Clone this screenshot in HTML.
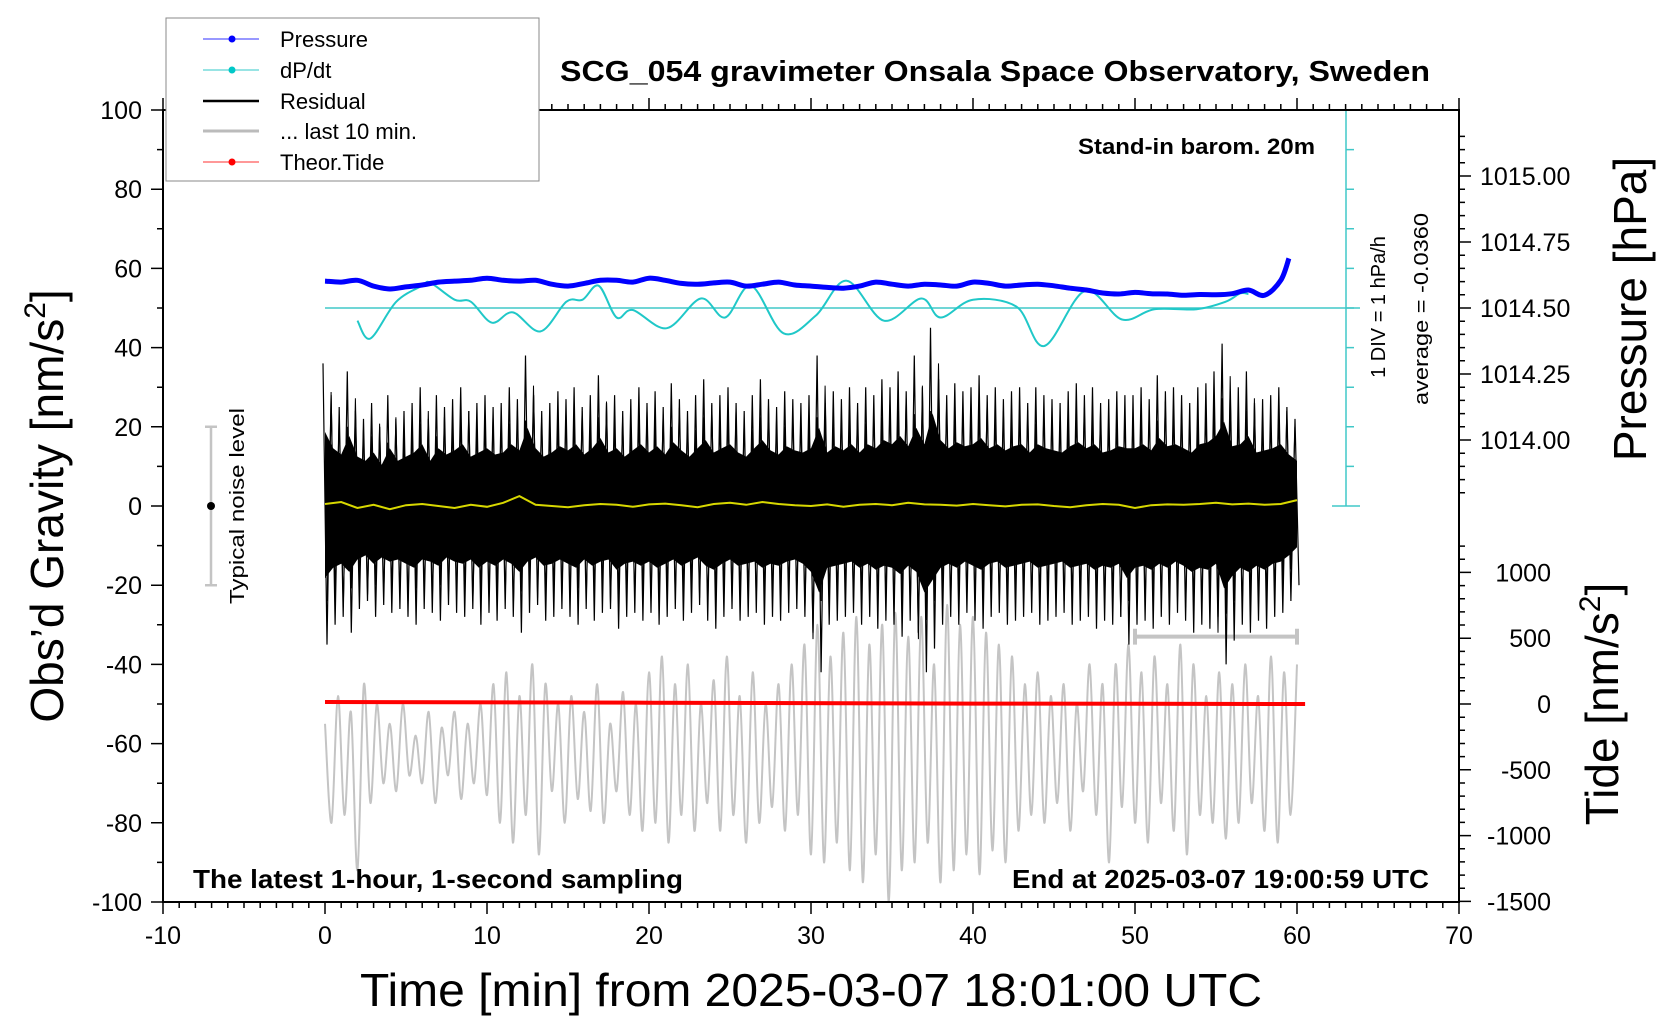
<!DOCTYPE html>
<html><head><meta charset="utf-8"><style>
html,body{margin:0;padding:0;background:#fff;}
svg{display:block;font-family:"Liberation Sans",sans-serif;}
</style></head><body>
<svg id="chart" width="1660" height="1020" viewBox="0 0 1660 1020" xmlns="http://www.w3.org/2000/svg">
<rect x="0" y="0" width="1660" height="1020" fill="#fff"/>
<g id="marks"></g>
<g id="axes"></g>
<rect x="163" y="110" width="1296" height="792" fill="none" stroke="#000" stroke-width="2"/>
<text x="995" y="81" font-size="29" font-weight="bold" text-anchor="middle" textLength="870" lengthAdjust="spacingAndGlyphs">SCG_054 gravimeter Onsala Space Observatory, Sweden</text>
<text transform="translate(63,506) rotate(-90)" font-size="46" text-anchor="middle">Obs’d Gravity [nm/s<tspan font-size="30" dy="-18">2</tspan><tspan dy="18">]</tspan></text>
<text x="811" y="1006" font-size="46" text-anchor="middle" textLength="902" lengthAdjust="spacingAndGlyphs">Time [min] from 2025-03-07 18:01:00 UTC</text>
<text transform="translate(1646,309) rotate(-90)" font-size="46" text-anchor="middle">Pressure [hPa]</text>
<text transform="translate(1618,704) rotate(-90)" font-size="46" text-anchor="middle">Tide [nm/s<tspan font-size="30" dy="-18">2</tspan><tspan dy="18">]</tspan></text>
<text x="1315" y="154" font-size="22" font-weight="bold" text-anchor="end" textLength="237" lengthAdjust="spacingAndGlyphs">Stand-in barom. 20m</text>
<text x="193" y="888" font-size="26" font-weight="bold" textLength="490" lengthAdjust="spacingAndGlyphs">The latest 1-hour, 1-second sampling</text>
<text x="1429" y="888" font-size="26" font-weight="bold" text-anchor="end" textLength="417" lengthAdjust="spacingAndGlyphs">End at 2025-03-07 19:00:59 UTC</text>
<text transform="translate(1385,307) rotate(-90)" font-size="20" text-anchor="middle">1 DIV = 1 hPa/h</text>
<text transform="translate(1428,309) rotate(-90)" font-size="20" text-anchor="middle" textLength="192" lengthAdjust="spacingAndGlyphs">average = -0.0360</text>
<text transform="translate(244,506) rotate(-90)" font-size="20" text-anchor="middle" textLength="196" lengthAdjust="spacingAndGlyphs">Typical noise level</text>
<g>
<rect x="166" y="18" width="373" height="163" fill="#fff" stroke="#888" stroke-width="1"/>
<g><line x1="203" y1="39" x2="259" y2="39" stroke="#3030ff" stroke-width="1"/><circle cx="232" cy="39" r="3.5" fill="#0000ff"/><text x="280" y="47" font-size="22">Pressure</text></g>
<g><line x1="203" y1="70" x2="259" y2="70" stroke="#30c8c8" stroke-width="1"/><circle cx="232" cy="70" r="3.5" fill="#00c8c8"/><text x="280" y="78" font-size="22">dP/dt</text></g>
<g><line x1="203" y1="101" x2="259" y2="101" stroke="#000" stroke-width="2.5"/><text x="280" y="109" font-size="22">Residual</text></g>
<g><line x1="203" y1="131" x2="259" y2="131" stroke="#bbb" stroke-width="3"/><text x="280" y="139" font-size="22">... last 10 min.</text></g>
<g><line x1="203" y1="162" x2="259" y2="162" stroke="#ff3030" stroke-width="1"/><circle cx="232" cy="162" r="3.5" fill="#ff0000"/><text x="280" y="170" font-size="22">Theor.Tide</text></g>
</g>
</svg>
<script>
const pressureTimes=[0,1,2,3,4,5,6,7,8,9,10,11,12,13,14,15,16,17,18,19,20,21,22,23,24,25,26,27,28,29,30,31,32,33,34,35,36,37,38,39,40,41,42,43,44,45,46,47,48,49,50,51,52,53,54,55,56,57,58,59,59.5];
const pressureValues=[1014.602,1014.598,1014.605,1014.583,1014.572,1014.580,1014.587,1014.598,1014.602,1014.605,1014.613,1014.605,1014.602,1014.605,1014.590,1014.583,1014.593,1014.605,1014.605,1014.598,1014.613,1014.605,1014.593,1014.590,1014.595,1014.598,1014.583,1014.590,1014.598,1014.587,1014.583,1014.578,1014.575,1014.583,1014.598,1014.590,1014.583,1014.590,1014.587,1014.583,1014.598,1014.593,1014.583,1014.587,1014.590,1014.584,1014.575,1014.568,1014.557,1014.553,1014.559,1014.554,1014.553,1014.548,1014.551,1014.550,1014.554,1014.568,1014.548,1014.605,1014.688];
const dpdtTimes=[2,2.8,4.4,6,6.5,8,9,10.3,11.6,13.3,14.9,15.9,16.9,18,19,21.1,23.2,24.7,26.3,28.3,30.3,32.2,34.5,36.8,38,40,42.7,44.4,46.9,49.2,51.2,53.8,55.6,56.5,57];
const dpdtValues=[-0.32,-0.77,0.16,0.56,0.64,0.21,0.16,-0.37,-0.11,-0.59,0.16,0.21,0.56,-0.24,-0.05,-0.51,0.24,-0.24,0.56,-0.64,-0.19,0.69,-0.32,0.24,-0.24,0.21,0.03,-0.96,0.43,-0.29,-0.03,-0.03,0.16,0.37,0.35];
const residualHi=[36,28,25,34,24,22,26,20,28,22,24,26,30,22,28,25,27,30,24,26,28,25,26,30,27,38,28,24,26,29,27,30,25,28,33,26,28,24,27,30,26,29,25,31,27,24,28,32,26,28,30,26,24,28,32,27,25,29,27,26,28,38,26,29,27,30,26,30,28,32,30,34,29,38,30,45,32,28,31,29,30,33,28,30,27,29,30,26,30,28,27,26,29,31,28,30,26,27,29,28,28,30,27,33,29,30,28,26,30,31,34,41,29,30,34,26,27,28,30,25,22];
const residualLo=[-35,-30,-28,-32,-26,-24,-28,-25,-27,-26,-28,-30,-26,-27,-29,-25,-27,-28,-26,-30,-27,-29,-26,-28,-32,-27,-25,-29,-28,-26,-28,-30,-26,-29,-27,-26,-31,-28,-27,-29,-27,-30,-28,-26,-29,-27,-25,-29,-31,-28,-26,-29,-28,-27,-30,-28,-29,-27,-26,-28,-32,-42,-30,-29,-28,-27,-30,-28,-31,-29,-30,-33,-29,-32,-42,-36,-30,-28,-30,-27,-29,-31,-28,-27,-30,-29,-28,-27,-30,-29,-28,-27,-30,-29,-28,-31,-29,-30,-28,-35,-30,-29,-31,-28,-30,-27,-29,-32,-30,-31,-28,-40,-34,-30,-32,-29,-31,-28,-27,-24,-20];
const smoothValues=[0.5,1,-0.5,0.3,-0.8,0.2,0.5,0,-0.5,0.3,-0.2,0.8,2.5,0.3,0,-0.3,0.2,0.5,0.3,-0.2,0.4,0.6,0.2,-0.3,0.5,0.8,0.3,1,0.5,0.2,0,0.4,-0.2,0.3,0.5,0.2,0.8,0.4,0.3,0.1,0.5,0.2,-0.1,0.3,0.4,0,-0.3,0.2,0.5,0.3,-0.5,0.2,0.4,0.3,0.5,0.8,0.4,0.6,0.3,0.5,1.5];
const last10Values=[-55,-80,-48,-78,-52,-92,-45,-75,-50,-70,-55,-72,-50,-68,-58,-70,-52,-75,-56,-68,-52,-74,-55,-70,-50,-73,-45,-80,-42,-85,-48,-78,-40,-88,-45,-72,-50,-80,-48,-74,-52,-77,-45,-80,-55,-72,-47,-78,-50,-82,-42,-80,-38,-85,-45,-78,-40,-82,-50,-75,-44,-82,-38,-78,-48,-85,-42,-80,-50,-76,-45,-82,-40,-78,-35,-88,-30,-90,-38,-85,-32,-92,-28,-95,-35,-88,-30,-100,-27,-92,-33,-90,-28,-85,-40,-95,-25,-92,-30,-88,-28,-93,-32,-87,-35,-90,-38,-82,-45,-78,-42,-80,-48,-75,-45,-82,-50,-72,-40,-78,-45,-90,-40,-76,-35,-80,-42,-85,-38,-75,-45,-82,-35,-88,-40,-78,-48,-80,-42,-84,-45,-80,-40,-75,-48,-82,-38,-85,-42,-78,-40];
const tideTimes=[0,20,40,60.5];
const tideValues=[15,10,3,0];
const xTicks=[-10,0,10,20,30,40,50,60,70];
const yTicks=[100,80,60,40,20,0,-20,-40,-60,-80,-100];
const pressureTicks=[1015.00,1014.75,1014.50,1014.25,1014.00];
const tideTicks=[1000,500,0,-500,-1000,-1500];

const NS="http://www.w3.org/2000/svg";
const X=t=>325+t*16.2;
const YL=v=>506-v*3.96;
const YP=p=>308-(p-1014.5)*264;
const YT=v=>704-v*0.1316;
const YD=v=>308-v*39.6;
const marks=document.getElementById('marks');
const axes=document.getElementById('axes');
function mk(tag,attrs,parent){const e=document.createElementNS(NS,tag);for(const k in attrs)e.setAttribute(k,attrs[k]);(parent||marks).appendChild(e);return e;}
function smoothPath(pts){let d='M'+pts[0][0].toFixed(1)+','+pts[0][1].toFixed(1);for(let i=0;i<pts.length-1;i++){const p0=pts[Math.max(0,i-1)],p1=pts[i],p2=pts[i+1],p3=pts[Math.min(pts.length-1,i+2)];const c1x=p1[0]+(p2[0]-p0[0])/6,c1y=p1[1]+(p2[1]-p0[1])/6,c2x=p2[0]-(p3[0]-p1[0])/6,c2y=p2[1]-(p3[1]-p1[1])/6;d+=' C'+c1x.toFixed(1)+','+c1y.toFixed(1)+' '+c2x.toFixed(1)+','+c2y.toFixed(1)+' '+p2[0].toFixed(1)+','+p2[1].toFixed(1);}return d;}

let gp=last10Values.map((v,i)=>[X(i*0.4),YL(v)]);
const g1=mk('path',{d:smoothPath(gp),fill:'none',stroke:'#c4c4c4','stroke-width':2});


const gb=mk('path',{d:`M${X(50)},${YL(-33)}H${X(60)}M${X(50)},${YL(-31)}V${YL(-35)}M${X(60)},${YL(-31)}V${YL(-35)}`,stroke:'#c4c4c4','stroke-width':4,fill:'none'});



let core='M'+residualHi.map((v,i)=>X(i*0.5).toFixed(1)+','+YL(v*0.52).toFixed(1)).join(' L');
for(let i=residualLo.length-1;i>=0;i--)core+=' L'+X(i*0.5).toFixed(1)+','+YL(residualLo[i]*0.52).toFixed(1);
const rc=mk('path',{d:core+'Z',fill:'#000'});


let zz='';
for(let i=0;i<residualHi.length;i++){const x=X(i*0.5);zz+=(i?' L':'M')+(x-2).toFixed(1)+','+YL(residualHi[i]).toFixed(1)+' L'+(x+2).toFixed(1)+','+YL(residualLo[i]).toFixed(1);}
const rz=mk('path',{d:zz,fill:'none',stroke:'#000','stroke-width':1.2});


let zz2='';
for(let i=0;i<residualHi.length-1;i++){const x=X(i*0.5+0.25);zz2+=(i?' L':'M')+(x-2).toFixed(1)+','+YL(residualLo[i+1]*0.8).toFixed(1)+' L'+(x+2).toFixed(1)+','+YL(residualHi[i]*0.8).toFixed(1);}
const rz2=mk('path',{d:zz2,fill:'none',stroke:'#000','stroke-width':1});


const ys=mk('path',{d:'M'+smoothValues.map((v,i)=>X(i).toFixed(1)+','+YL(v).toFixed(1)).join(' L'),fill:'none',stroke:'#d8d800','stroke-width':2});



const tl=mk('path',{d:'M'+tideTimes.map((t,i)=>X(t).toFixed(1)+','+YT(tideValues[i]).toFixed(1)).join(' L'),fill:'none',stroke:'#ff0000','stroke-width':4});



const dl=mk('path',{d:`M${X(0)},${YD(0)}H1360`,stroke:'#40c8c8','stroke-width':1.5});


const dc=mk('path',{d:smoothPath(dpdtTimes.map((t,i)=>[X(t),YD(dpdtValues[i])])),fill:'none',stroke:'#20c8c8','stroke-width':2});


let sb=`M1346,110V506M1332,506H1360M1332,110H1360`;
for(let k=-5;k<=5;k++)sb+=`M1346,${YD(k)}H1354`;
const sc=mk('path',{d:sb,stroke:'#40c8c8','stroke-width':1.5,fill:'none'});



const pl=mk('path',{d:smoothPath(pressureTimes.map((t,i)=>[X(t),YP(pressureValues[i])])),fill:'none',stroke:'#0000ff','stroke-width':5});



const nb=mk('path',{d:`M211,${YL(20)}V${YL(-20)}M205,${YL(20)}H217M205,${YL(-20)}H217`,stroke:'#c4c4c4','stroke-width':2.5,fill:'none'});


const nd=mk('circle',{cx:211,cy:YL(0),r:4,fill:'#000'});



let td='';
for(let t=-10;t<=70;t++){const L=(t%10===0)?12:6;td+=`M${X(t)},902v${L}M${X(t)},110v${-L}`;}
for(let v=-100;v<=100;v+=10){const L=(v%20===0)?12:6;td+=`M163,${YL(v)}h${-L}`;}
for(let p=1013.25;p<=1015.16;p+=0.05){const y=YP(p);if(y<110||y>506)continue;const maj=Math.abs((p*4)-Math.round(p*4))<0.01;td+=`M1459,${y.toFixed(1)}h${maj?12:6}`;}
for(let v=-1500;v<=1400;v+=100){const y=YT(v);if(y<540)continue;td+=`M1459,${y.toFixed(1)}h${v%500===0?12:6}`;}
const tk=mk('path',{d:td,stroke:'#000','stroke-width':1.5,fill:'none'},axes);


xTicks.forEach(t=>{const e=mk('text',{x:X(t),y:944,'font-size':25,'text-anchor':'middle'},axes);e.textContent=t;

});
yTicks.forEach(v=>{const e=mk('text',{x:142,y:YL(v)+9,'font-size':25,'text-anchor':'end'},axes);e.textContent=v;

});
pressureTicks.forEach(p=>{const e=mk('text',{x:1480,y:YP(p)+9,'font-size':25},axes);e.textContent=p.toFixed(2);

});
tideTicks.forEach(v=>{const e=mk('text',{x:1551,y:YT(v)+9,'font-size':25,'text-anchor':'end'},axes);e.textContent=v;

});
</script>
</body></html>
